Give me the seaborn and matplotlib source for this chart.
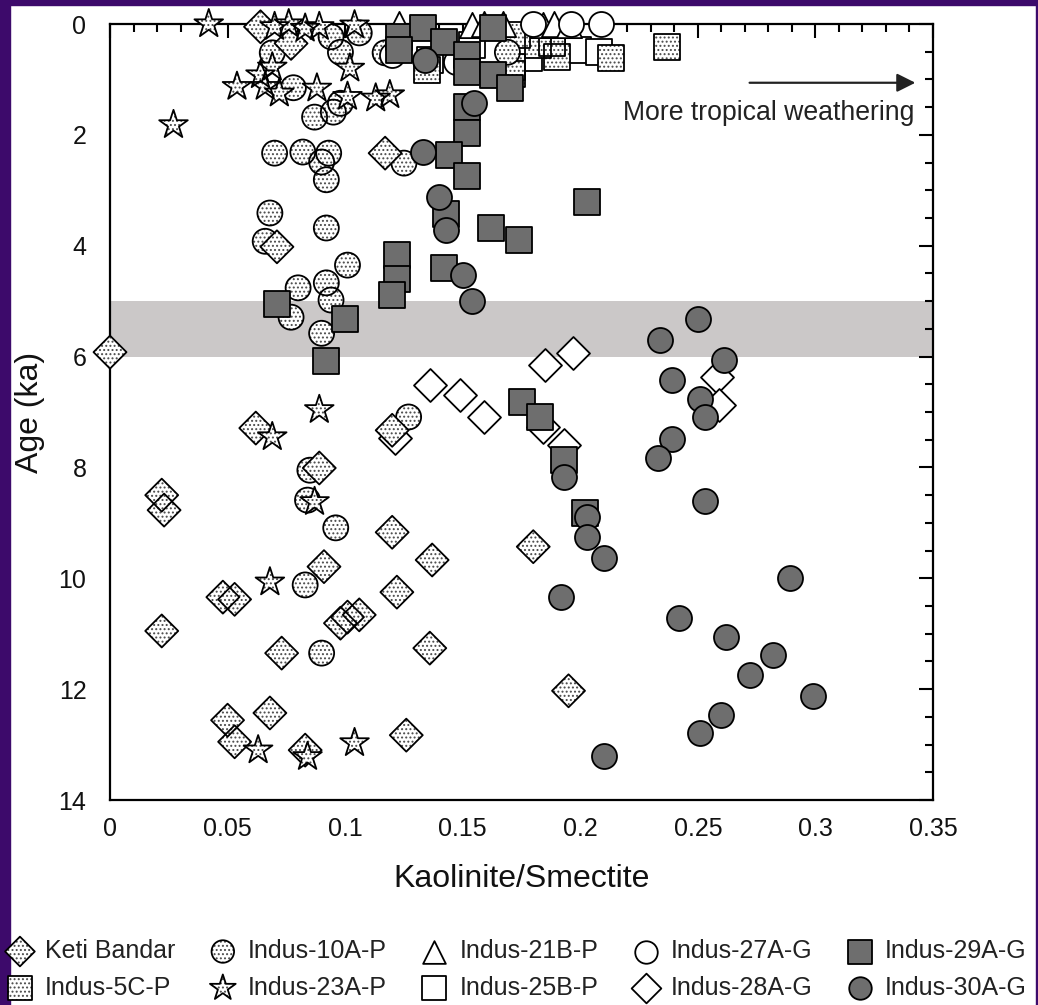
import matplotlib
matplotlib.use("Agg")
import matplotlib.pyplot as plt
from matplotlib.legend_handler import HandlerTuple
from matplotlib.patches import Rectangle
from matplotlib.ticker import MultipleLocator, FuncFormatter
import pandas as pd
import seaborn as sns

# ---- Kaolinite/Smectite ratio vs. age (ka) for each core / site ----
KETI_X = [0.000, 0.064, 0.077, 0.117, 0.071, 0.062, 0.120, 0.089, 0.022, 0.023,
          0.120, 0.137, 0.091, 0.048, 0.053, 0.122, 0.022, 0.098, 0.101, 0.106,
          0.073, 0.136, 0.050, 0.068, 0.053, 0.083, 0.126, 0.180, 0.195]
KETI_Y = [5.92, 0.05, 0.35, 2.33, 4.02, 7.29, 7.33, 8.01, 8.50, 8.77,
          9.17, 9.67, 9.79, 10.34, 10.38, 10.25, 10.95, 10.81, 10.70, 10.66,
          11.35, 11.26, 12.56, 12.43, 12.95, 13.10, 12.83, 9.43, 12.03]

I5C_X = [0.135, 0.173, 0.182, 0.188, 0.190, 0.213, 0.237, 0.171, 0.171]
I5C_Y = [0.83, 0.20, 0.38, 0.34, 0.60, 0.61, 0.41, 0.78, 0.90]

I10A_X = [0.069, 0.094, 0.098, 0.106, 0.078, 0.098, 0.095, 0.087, 0.070, 0.082,
          0.093, 0.090, 0.092, 0.125, 0.117, 0.169, 0.068, 0.066, 0.092, 0.101,
          0.080, 0.092, 0.094, 0.077, 0.090, 0.127, 0.085, 0.084, 0.096, 0.083,
          0.090]
I10A_Y = [0.52, 0.23, 0.51, 0.16, 1.15, 1.43, 1.59, 1.68, 2.33, 2.31,
          2.33, 2.49, 2.81, 2.51, 0.52, 0.51, 3.41, 3.92, 3.68, 4.35,
          4.76, 4.67, 4.98, 5.29, 5.58, 7.09, 8.05, 8.59, 9.09, 10.12,
          11.35]

I23A_X = [0.042, 0.027, 0.054, 0.070, 0.076, 0.083, 0.089, 0.104, 0.064, 0.066,
          0.072, 0.088, 0.069, 0.102, 0.101, 0.113, 0.119, 0.089, 0.069, 0.087,
          0.068, 0.063, 0.084, 0.104]
I23A_Y = [0.00, 1.82, 1.13, 0.05, 0.00, 0.08, 0.05, 0.02, 0.92, 1.13,
          1.25, 1.16, 0.78, 0.80, 1.31, 1.34, 1.28, 6.96, 7.45, 8.62,
          10.07, 13.10, 13.22, 12.97]

I21B_X = [0.123, 0.154, 0.159, 0.167, 0.184, 0.189, 0.195]
I21B_Y = [0.00, 0.02, 0.00, 0.00, 0.02, 0.00, 0.02]

I25B_X = [0.136, 0.154, 0.178, 0.199, 0.208]
I25B_Y = [0.65, 0.38, 0.61, 0.47, 0.51]

I27A_X = [0.180, 0.196, 0.209, 0.120, 0.147]
I27A_Y = [0.00, 0.00, 0.00, 0.56, 0.69]

I28A_X = [0.136, 0.149, 0.159, 0.197, 0.185, 0.258, 0.259, 0.184, 0.193, 0.121]
I28A_Y = [6.51, 6.69, 7.09, 5.94, 6.15, 6.37, 6.87, 7.27, 7.60, 7.47]

I29A_X = [0.123, 0.133, 0.123, 0.142, 0.152, 0.152, 0.163, 0.163, 0.170, 0.152,
          0.152, 0.144, 0.152, 0.143, 0.162, 0.174, 0.122, 0.122, 0.120, 0.142,
          0.071, 0.100, 0.092, 0.203, 0.175, 0.183, 0.193, 0.202]
I29A_Y = [0.23, 0.07, 0.47, 0.32, 0.56, 0.86, 0.07, 0.92, 1.16, 1.49,
          1.97, 2.36, 2.75, 3.42, 3.68, 3.90, 4.17, 4.60, 4.89, 4.40,
          5.05, 5.32, 6.08, 3.21, 6.82, 7.09, 7.87, 8.82]

I30A_X = [0.134, 0.155, 0.133, 0.140, 0.143, 0.150, 0.154, 0.250, 0.234, 0.261,
          0.239, 0.251, 0.253, 0.239, 0.233, 0.193, 0.253, 0.203, 0.203, 0.210,
          0.192, 0.289, 0.242, 0.262, 0.282, 0.272, 0.299, 0.260, 0.251, 0.210]
I30A_Y = [0.65, 1.43, 2.31, 3.12, 3.72, 4.53, 5.00, 5.32, 5.70, 6.06,
          6.42, 6.77, 7.09, 7.49, 7.83, 8.17, 8.60, 8.89, 9.26, 9.63,
          10.34, 9.99, 10.72, 11.06, 11.38, 11.74, 12.12, 12.47, 12.79, 13.21]

# drawing order (later series sit on top)
DRAW_ORDER = ["Indus-28A-G", "Indus-25B-P", "Indus-5C-P", "Indus-10A-P",
              "Keti Bandar", "Indus-23A-P", "Indus-21B-P", "Indus-27A-G",
              "Indus-29A-G", "Indus-30A-G"]
# legend order, filled column by column (two rows of five)
LEGEND_ORDER = ["Keti Bandar", "Indus-5C-P", "Indus-10A-P", "Indus-23A-P",
                "Indus-21B-P", "Indus-25B-P", "Indus-27A-G", "Indus-28A-G",
                "Indus-29A-G", "Indus-30A-G"]
X_TICKS = [0, 0.05, 0.1, 0.15, 0.2, 0.25, 0.3, 0.35]
Y_TICKS = [0, 2, 4, 6, 8, 10, 12, 14]
BAND = (5.0, 6.0)

# ---- styling ----
STIPPLE = "#4a4a4a"
DARK = "#6e6e6e"
BORDER = "#3d0a6b"

sns.set_theme(style="white")
plt.rcParams["font.family"] = ["Liberation Sans", "DejaVu Sans"]
plt.rcParams["hatch.linewidth"] = 0.9
plt.rcParams["hatch.color"] = STIPPLE

W, H = 1038, 1005
fig = plt.figure(figsize=(W / 100, H / 100), dpi=100)
fig.patch.set_facecolor("white")
ax = fig.add_axes([110 / W, 1 - 800 / H, 823 / W, 776 / H])

ax.axhspan(*BAND, color="#cbc8c8", lw=0, zorder=0)

# marker, size, fill kind (stipple / open / dark) per series
styles = {
    "Keti Bandar": ("D", 282, "stipple"),
    "Indus-5C-P": ("s", 350, "stipple"),
    "Indus-10A-P": ("o", 324, "stipple"),
    "Indus-23A-P": ("*", 470, "stipple"),
    "Indus-21B-P": ("^", 330, "open"),
    "Indus-25B-P": ("s", 350, "open"),
    "Indus-27A-G": ("o", 324, "open"),
    "Indus-28A-G": ("D", 282, "open"),
    "Indus-29A-G": ("s", 350, "dark"),
    "Indus-30A-G": ("o", 324, "dark"),
}
values = {
    "Keti Bandar": (KETI_X, KETI_Y),
    "Indus-5C-P": (I5C_X, I5C_Y),
    "Indus-10A-P": (I10A_X, I10A_Y),
    "Indus-23A-P": (I23A_X, I23A_Y),
    "Indus-21B-P": (I21B_X, I21B_Y),
    "Indus-25B-P": (I25B_X, I25B_Y),
    "Indus-27A-G": (I27A_X, I27A_Y),
    "Indus-28A-G": (I28A_X, I28A_Y),
    "Indus-29A-G": (I29A_X, I29A_Y),
    "Indus-30A-G": (I30A_X, I30A_Y),
}

handles = {}
z = 3
for name in DRAW_ORDER:
    xs, ys = values[name]
    df = pd.DataFrame({"ratio": xs, "age": ys})
    marker, size, kind = styles[name]
    common = dict(data=df, x="ratio", y="age", marker=marker, s=size,
                  clip_on=False, legend=False, ax=ax)
    if kind == "stipple":
        # dotted fill first, then the black outline on top
        sns.scatterplot(color="white", edgecolor=STIPPLE, hatch="....",
                        linewidth=0, zorder=z, **common)
        fill = ax.collections[-1]
        sns.scatterplot(color="none", edgecolor="black", linewidth=1.3,
                        zorder=z + 0.5, **common)
        handles[name] = (fill, ax.collections[-1])
    else:
        face = DARK if kind == "dark" else "white"
        sns.scatterplot(color=face, edgecolor="black", linewidth=1.3,
                        zorder=z, **common)
        handles[name] = ax.collections[-1]
    z += 1

# arrow and note
ax.annotate("", xy=(0.3425, 1.06), xytext=(0.272, 1.06),
            arrowprops=dict(arrowstyle="-|>", color="#222222", lw=1.6,
                            mutation_scale=28, shrinkA=0, shrinkB=0))
ax.text(0.342, 1.61, "More tropical weathering", ha="right", va="center",
        fontsize=19.2, color="#222222")

# axes
ax.set_xlim(0, 0.35)
ax.set_ylim(14, 0)
ax.set_xticks(X_TICKS)
ax.set_yticks(Y_TICKS)
ax.xaxis.set_major_formatter(FuncFormatter(lambda v, p: f"{v:g}"))
ax.xaxis.set_minor_locator(MultipleLocator(0.01))
ax.yaxis.set_minor_locator(MultipleLocator(0.5))
ax.tick_params(which="both", direction="in", top=True, right=True,
               colors="black", width=1.5)
ax.tick_params(which="major", length=10, labelsize=18,
               labelcolor="#111111")
ax.tick_params(axis="x", which="major", pad=12)
ax.tick_params(axis="y", which="major", pad=17)
ax.tick_params(which="minor", length=5.5)
for sp in ax.spines.values():
    sp.set_linewidth(1.6)
    sp.set_color("black")
    sp.set_zorder(2.5)
ax.set_xlabel("Kaolinite/Smectite", fontsize=23, labelpad=17, color="#111111")
ax.set_ylabel("Age (ka)", fontsize=23, labelpad=10, color="#111111")

# legend: two rows of five
fig.legend([handles[n] for n in LEGEND_ORDER], LEGEND_ORDER, ncol=5,
           loc="center", bbox_to_anchor=(0.497, 0.0355), frameon=False,
           fontsize=18, labelcolor="#222222", markerscale=0.9,
           handlelength=1.2, handletextpad=0.4, columnspacing=1.3,
           labelspacing=0.5, borderpad=0,
           handler_map={tuple: HandlerTuple(ndivide=1, pad=0)})

# dark frame around the figure edge
fig.patches.append(Rectangle((0, 1 - 5 / H), 1, 5 / H, transform=fig.transFigure,
                             color=BORDER, zorder=-1))
fig.patches.append(Rectangle((0, 0), 10 / W, 1, transform=fig.transFigure,
                             color=BORDER, zorder=-1))
fig.patches.append(Rectangle((1 - 2 / W, 0), 2 / W, 1, transform=fig.transFigure,
                             color=BORDER, zorder=-1))

fig.savefig("out.png", dpi=100)
